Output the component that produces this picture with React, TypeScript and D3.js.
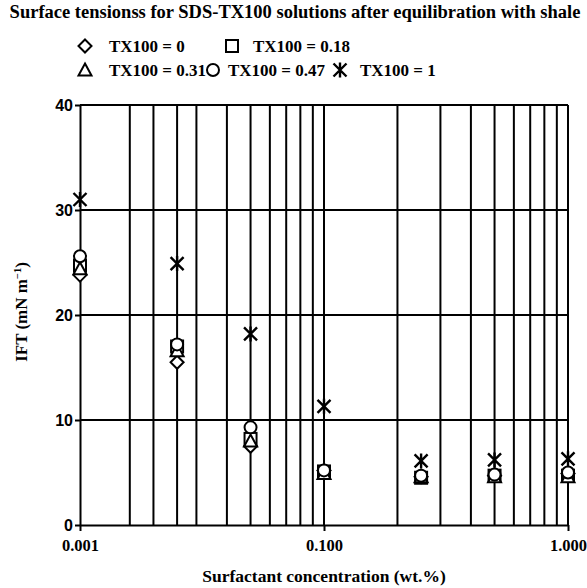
import React, { useEffect, useRef } from 'react';
import * as d3 from 'd3';

// concentrations (wt.%) and IFT values
const concentrations = [0.01, 0.025, 0.05, 0.1, 0.25, 0.5, 1];
const tx0 = [23.8, 15.5, 7.5, 5.2, 4.6, 4.7, 4.9];
const tx018 = [24.7, 17.0, 8.2, 5.1, 4.5, 4.7, 4.7];
const tx031 = [24.4, 16.6, 8.0, 4.9, 4.6, 4.6, 4.6];
const tx047 = [25.6, 17.2, 9.3, 5.2, 4.7, 4.8, 5.0];
const tx1 = [31.0, 24.9, 18.2, 11.3, 6.1, 6.2, 6.3];

const seriesNames = ['TX100 = 0', 'TX100 = 0.18', 'TX100 = 0.31', 'TX100 = 0.47', 'TX100 = 1'];
const seriesSymbols = ['diamond', 'square', 'triangle', 'circle', 'star'];

const xTickValues = [0.01, 0.1, 1];
const xTickLabels = ['0.001', '0.100', '1.000'];
const yTickValues = [0, 10, 20, 30, 40];
const xGridValues = [
  0.016, 0.02, 0.025, 0.03, 0.04, 0.05, 0.06, 0.07, 0.08, 0.09, 0.1,
  0.2, 0.3, 0.4, 0.5, 0.6, 0.7, 0.8, 0.9, 1,
];

const W = 587;
const H = 588;
const serif = "'Liberation Serif', Tinos, 'Times New Roman', 'DejaVu Serif', serif";
const sans = "'Liberation Sans', Arial, sans-serif";

function drawMarker(g: any, kind: string, x: number, y: number) {
  const s = 6.5;
  const common = (sel: any) => sel.attr('fill', '#fff').attr('stroke', '#000').attr('stroke-width', 2);
  if (kind === 'diamond') {
    common(g.append('path').attr('d', `M${x},${y - s}L${x + s},${y}L${x},${y + s}L${x - s},${y}Z`));
  } else if (kind === 'square') {
    common(g.append('rect').attr('x', x - s + 0.5).attr('y', y - s + 0.5).attr('width', 2 * s - 1).attr('height', 2 * s - 1));
  } else if (kind === 'triangle') {
    common(g.append('path').attr('d', `M${x},${y - s}L${x + s},${y + s - 1}L${x - s},${y + s - 1}Z`));
  } else if (kind === 'circle') {
    common(g.append('circle').attr('cx', x).attr('cy', y).attr('r', s - 0.5));
  } else {
    g.append('path')
      .attr('d', `M${x - s},${y - s}L${x + s},${y + s}M${x + s},${y - s}L${x - s},${y + s}M${x},${y - s - 1}L${x},${y + s + 1}`)
      .attr('fill', 'none')
      .attr('stroke', '#000')
      .attr('stroke-width', 2.4);
  }
}

const Chart = () => {
  const ref = useRef<SVGSVGElement | null>(null);

  useEffect(() => {
    const svg = d3.select(ref.current);
    svg.selectAll('*').remove();

    const x = d3.scaleLog().domain([0.01, 1]).range([80, 568]);
    const y = d3.scaleLinear().domain([0, 40]).range([525, 105]);

    // title
    svg.append('text')
      .attr('x', 295).attr('y', 18)
      .attr('text-anchor', 'middle')
      .style('font-family', serif).style('font-weight', 'bold').style('font-size', '18.5px')
      .text('Surface tensionss for SDS-TX100 solutions after equilibration with shale');

    // vertical grid
    svg.append('g')
      .selectAll('line')
      .data(xGridValues)
      .enter()
      .append('line')
      .attr('x1', (d) => x(d)).attr('x2', (d) => x(d))
      .attr('y1', y(40)).attr('y2', y(0))
      .attr('stroke', '#000').attr('stroke-width', 2);

    // horizontal grid
    svg.append('g')
      .selectAll('line')
      .data(yTickValues.slice(1))
      .enter()
      .append('line')
      .attr('x1', x(0.01)).attr('x2', x(1))
      .attr('y1', (d) => y(d)).attr('y2', (d) => y(d))
      .attr('stroke', '#000').attr('stroke-width', 2);

    // y axis
    const yAxis = d3.axisLeft(y).tickValues(yTickValues).tickSize(5).tickSizeOuter(0).tickPadding(2);
    const ya = svg.append('g').attr('transform', `translate(${x(0.01)},0)`).call(yAxis);
    ya.select('.domain').attr('stroke-width', 2);
    ya.selectAll('.tick line').attr('stroke-width', 2);
    ya.selectAll('.tick text').style('font-family', sans).style('font-weight', 'bold').style('font-size', '16px').attr('fill', '#000');

    // x axis
    const xAxis = d3.axisBottom(x)
      .tickValues(xTickValues)
      .tickFormat((d, i) => xTickLabels[i])
      .tickSize(6).tickSizeOuter(0).tickPadding(8);
    const xa = svg.append('g').attr('transform', `translate(0,${y(0)})`).call(xAxis);
    xa.select('.domain').attr('stroke-width', 2);
    xa.selectAll('.tick line').attr('stroke-width', 2);
    xa.selectAll('.tick text').style('font-family', serif).style('font-weight', 'bold').style('font-size', '16.5px').attr('fill', '#000');

    // axis titles
    svg.append('text')
      .attr('x', 324).attr('y', 582)
      .attr('text-anchor', 'middle')
      .style('font-family', serif).style('font-weight', 'bold').style('font-size', '17.5px')
      .text('Surfactant concentration (wt.%)');

    const yl = svg.append('text')
      .attr('transform', 'translate(27,312) rotate(-90)')
      .attr('text-anchor', 'middle')
      .style('font-family', serif).style('font-weight', 'bold').style('font-size', '17px');
    yl.append('tspan').text('IFT (mN m');
    yl.append('tspan').attr('dy', -6).style('font-size', '10.5px').text('−1');
    yl.append('tspan').attr('dy', 6).text(')');

    // points
    const allSeries = [tx0, tx018, tx031, tx047, tx1];
    const pts = svg.append('g');
    allSeries.forEach((vals, si) => {
      vals.forEach((v, i) => drawMarker(pts, seriesSymbols[si], x(concentrations[i]), y(v)));
    });

    // legend
    const legendPos = [
      [85, 46], [232, 46], [85, 70], [213, 70], [340, 70],
    ];
    const lg = svg.append('g');
    seriesNames.forEach((name, i) => {
      const [lx, ly] = legendPos[i];
      drawMarker(lg, seriesSymbols[i], lx, ly);
      lg.append('text')
        .attr('x', lx + (i === 0 || i === 2 ? 24 : i === 1 ? 21 : i === 3 ? 15 : 20)).attr('y', ly + 6)
        .style('font-family', serif).style('font-weight', 'bold').style('font-size', '17px')
        .text(name);
    });
  }, []);

  return <svg ref={ref} width={W} height={H} style={{ position: 'absolute', left: 0, top: 0, background: '#fff' }} />;
};

export default function App() {
  return <Chart />;
}
